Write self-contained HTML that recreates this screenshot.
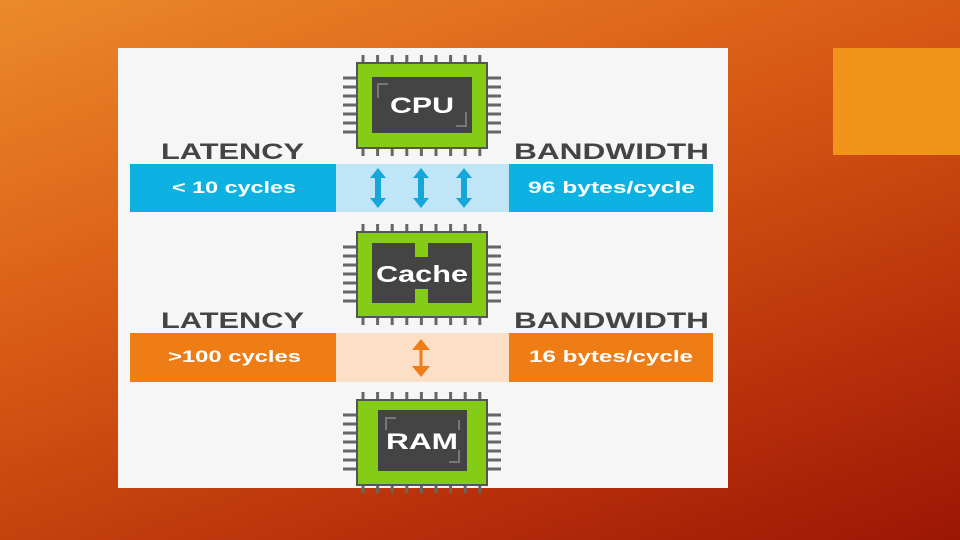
<!DOCTYPE html>
<html><head><style>
html,body{margin:0;padding:0;width:960px;height:540px;overflow:hidden}
body{background:linear-gradient(160deg,#ec8a2c 0%,#d85a14 40%,#b8300a 75%,#9c1606 100%)}
text{font-family:"Liberation Sans",sans-serif;font-weight:bold}
</style></head><body>
<svg width="960" height="540" viewBox="0 0 960 540" style="position:absolute;left:0;top:0">
<defs>
<g id="pins" stroke="#666" stroke-width="3">
<path d="M363 55v8M377.6 55v8M392.2 55v8M406.8 55v8M421.4 55v8M436 55v8M450.6 55v8M465.2 55v8M479.8 55v8"/>
<path d="M363 148v8M377.6 148v8M392.2 148v8M406.8 148v8M421.4 148v8M436 148v8M450.6 148v8M465.2 148v8M479.8 148v8"/>
<path d="M343 78h14M343 87h14M343 96h14M343 105h14M343 114h14M343 123h14M343 132h14"/>
<path d="M487 78h14M487 87h14M487 96h14M487 105h14M487 114h14M487 123h14M487 132h14"/>
</g>
<rect id="body" x="357" y="63" width="130" height="85" fill="#84cc16" stroke="#555" stroke-width="2"/>
</defs>
<rect x="833" y="48" width="127" height="107" fill="#f0941c"/>
<rect x="118" y="48" width="610" height="440" fill="#f6f6f6"/>
<!-- CPU -->
<use href="#pins"/><use href="#body"/>
<rect x="372" y="77" width="100" height="56" fill="#444"/>
<path d="M378 98v-14h10M466 112v14h-10" stroke="#777" stroke-width="2" fill="none"/>
<text x="390" y="113" font-size="22" fill="#fff" textLength="64" lengthAdjust="spacingAndGlyphs">CPU</text>
<!-- labels 1 -->
<text x="161" y="159" font-size="22" fill="#444" textLength="143" lengthAdjust="spacingAndGlyphs">LATENCY</text>
<text x="514" y="159" font-size="22" fill="#444" textLength="195" lengthAdjust="spacingAndGlyphs">BANDWIDTH</text>
<rect x="130" y="164" width="206" height="48" fill="#0db2e2"/>
<rect x="336" y="164" width="173" height="48" fill="#bfe5f6"/>
<rect x="509" y="164" width="204" height="48" fill="#0db2e2"/>
<text x="172" y="193" font-size="17" fill="#fff" textLength="124" lengthAdjust="spacingAndGlyphs">&lt; 10 cycles</text>
<text x="528" y="193" font-size="17" fill="#fff" textLength="167" lengthAdjust="spacingAndGlyphs">96 bytes/cycle</text>
<g fill="#16a6dc">
<g id="ar"><path d="M378 168l-8 10h5v20h-5l8 10 8-10h-5v-20h5z"/></g>
<use href="#ar" x="43"/><use href="#ar" x="86"/>
</g>
<!-- Cache -->
<g transform="translate(0,169)"><use href="#pins"/><use href="#body"/></g>
<rect x="372" y="243" width="100" height="60" fill="#444"/>
<rect x="415" y="243" width="13" height="14" fill="#84cc16"/>
<rect x="415" y="289" width="13" height="14" fill="#84cc16"/>
<text x="376" y="282" font-size="23" fill="#fff" textLength="92" lengthAdjust="spacingAndGlyphs">Cache</text>
<!-- labels 2 -->
<text x="161" y="328" font-size="22" fill="#444" textLength="143" lengthAdjust="spacingAndGlyphs">LATENCY</text>
<text x="514" y="328" font-size="22" fill="#444" textLength="195" lengthAdjust="spacingAndGlyphs">BANDWIDTH</text>
<rect x="130" y="333" width="206" height="49" fill="#ef7d16"/>
<rect x="336" y="333" width="173" height="49" fill="#fbdfc6"/>
<rect x="509" y="333" width="204" height="49" fill="#ef7d16"/>
<text x="168" y="362" font-size="17" fill="#fff" textLength="133" lengthAdjust="spacingAndGlyphs">&gt;100 cycles</text>
<text x="529" y="362" font-size="17" fill="#fff" textLength="164" lengthAdjust="spacingAndGlyphs">16 bytes/cycle</text>
<path d="M421 339l-9 11h7.5v16h-7.5l9 11 9-11h-7.5v-16h7.5z" fill="#ef7d16"/>
<!-- RAM -->
<g transform="translate(0,337)"><use href="#pins"/><use href="#body"/></g>
<rect x="378" y="410" width="89" height="61" fill="#444"/>
<path d="M386 430v-12h10M459 420v10M459 450v12h-10" stroke="#777" stroke-width="2" fill="none"/>
<text x="386" y="449" font-size="22" fill="#fff" textLength="72" lengthAdjust="spacingAndGlyphs">RAM</text>
</svg>
</body></html>
